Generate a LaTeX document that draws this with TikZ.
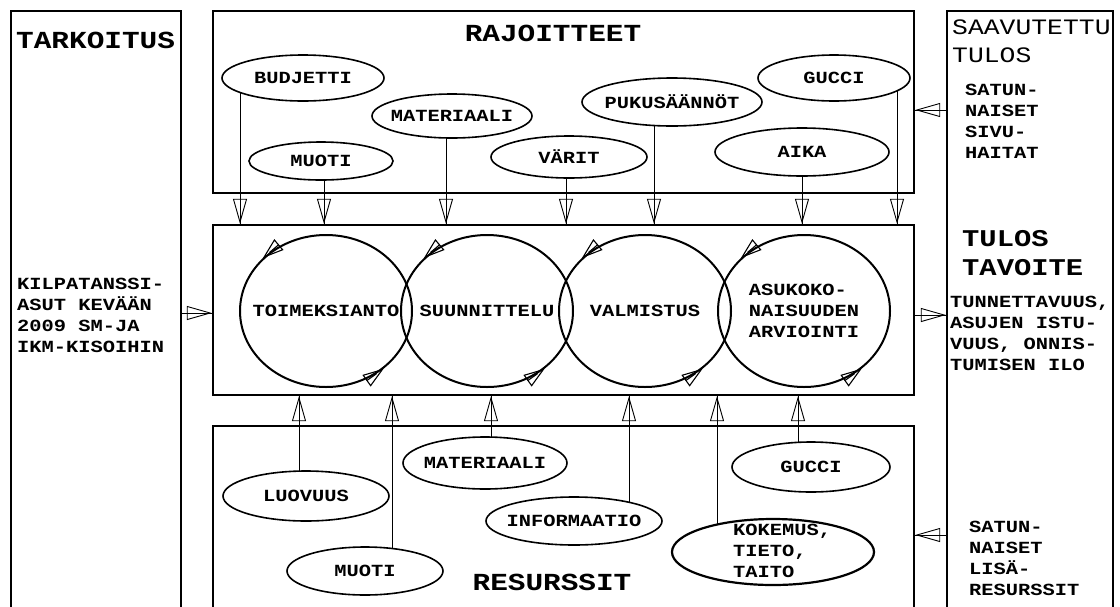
\documentclass[tikz,border=0pt]{standalone}
\usepackage{fontspec}
\newfontfamily\kaaviofont[FakeStretch=1.2]{Liberation Mono}
\usetikzlibrary{shapes.geometric,arrows.meta,backgrounds}
\tikzset{
  laatikko/.style={draw, line width=2.4pt, inner sep=0pt},
  soikio/.style={ellipse, draw, fill=white, line width=1.6pt, inner xsep=-30pt, inner ysep=0pt,
    font=\kaaviofont\bfseries\fontsize{17}{21}\selectfont},
  vaihe/.style={ellipse, draw, line width=2pt, minimum width=172pt, minimum height=152pt,
    inner xsep=-30pt, inner ysep=0pt, align=left, font=\kaaviofont\bfseries\fontsize{17}{21}\selectfont},
  teksti/.style={inner sep=0pt, anchor=west, align=left, font=\kaaviofont\bfseries\fontsize{17}{21}\selectfont},
  otsikko/.style={inner sep=0pt, font=\kaaviofont\bfseries\fontsize{24.5}{29}\selectfont},
  nuoli/.style={line width=0.9pt, -{Triangle[open, length=25pt, width=14pt]}, postaction={draw, -}},
  kierto/.style={line width=1.1pt, -{Triangle[open, length=21pt, width=14pt]}}
}
\begin{document}
\begin{tikzpicture}[x=1pt,y=-1pt]
  \useasboundingbox (0,0) rectangle (1120,606);
  % laatikot
  \node[laatikko, minimum width=170pt, minimum height=610pt] (tarkoitus) at (96,316) {};
  \node[laatikko, minimum width=701pt, minimum height=182pt] (rajoitteet) at (563.5,102) {};
  \node[laatikko, minimum width=701pt, minimum height=170pt] (prosessi) at (563.5,310) {};
  \node[laatikko, minimum width=701pt, minimum height=194pt] (resurssit) at (563.5,523) {};
  \node[laatikko, minimum width=166pt, minimum height=610pt] (tulos) at (1030,316) {};
  % otsikot
  \node[otsikko, anchor=west] (tarkoitus-otsikko) at (16,40) {TARKOITUS};
  \node[otsikko] (rajoitteet-otsikko) at (553,33) {RAJOITTEET};
  \node[otsikko] (resurssit-otsikko) at (552,582) {RESURSSIT};
  \node[otsikko, anchor=west, align=left, font=\kaaviofont\fontsize{22}{28}\selectfont] (saavutettu) at (952,41) {SAAVUTETTU\\TULOS};
  \node[otsikko, anchor=west, align=left, font=\kaaviofont\bfseries\fontsize{24}{29}\selectfont] (tulos-otsikko) at (962,253) {TULOS\\TAVOITE};
  % tekstit
  \node[teksti] (kilpa) at (17,315) {KILPATANSSI-\\ASUT KEVÄÄN\\2009 SM-JA\\IKM-KISOIHIN};
  \node[teksti] (haitat) at (965,121) {SATUN-\\NAISET\\SIVU-\\HAITAT};
  \node[teksti] (tavoite) at (950,333) {TUNNETTAVUUS,\\ASUJEN ISTU-\\VUUS, ONNIS-\\TUMISEN ILO};
  \node[teksti] (lisat) at (969,558) {SATUN-\\NAISET\\LISÄ-\\RESURSSIT};
  % rajoitteet
  \node[soikio, minimum width=162pt, minimum height=46pt] (budjetti) at (303,78) {BUDJETTI};
  \node[soikio, minimum width=144pt, minimum height=38pt] (muoti) at (321,161) {MUOTI};
  \node[soikio, minimum width=160pt, minimum height=44pt] (materiaali) at (452,116) {MATERIAALI};
  \node[soikio, minimum width=156pt, minimum height=42pt] (varit) at (569,157) {VÄRIT};
  \node[soikio, minimum width=180pt, minimum height=48pt] (pukusaannot) at (672,102) {PUKUSÄÄNNÖT};
  \node[soikio, minimum width=152pt, minimum height=46pt] (gucci) at (834,78) {GUCCI};
  \node[soikio, minimum width=174pt, minimum height=48pt] (aika) at (802,152) {AIKA};
  % prosessi
  \node[vaihe] (toimeksianto) at (326,311) {TOIMEKSIANTO};
  \node[vaihe] (suunnittelu) at (487,311) {SUUNNITTELU};
  \node[vaihe] (valmistus) at (645,311) {VALMISTUS};
  \node[vaihe] (arviointi) at (804,311) {ASUKOKO-\\NAISUUDEN\\ARVIOINTI};
  \draw[kierto] (toimeksianto.134) -- (toimeksianto.140);
  \draw[kierto] (toimeksianto.-51) -- (toimeksianto.-45);
  \draw[kierto] (suunnittelu.134) -- (suunnittelu.140);
  \draw[kierto] (suunnittelu.-51) -- (suunnittelu.-45);
  \draw[kierto] (valmistus.134) -- (valmistus.140);
  \draw[kierto] (valmistus.-51) -- (valmistus.-45);
  \draw[kierto] (arviointi.134) -- (arviointi.140);
  \draw[kierto] (arviointi.-51) -- (arviointi.-45);
  % resurssit
  \node[soikio, minimum width=166pt, minimum height=50pt] (luovuus) at (306,496) {LUOVUUS};
  \node[soikio, minimum width=156pt, minimum height=48pt] (muoti2) at (365,571) {MUOTI};
  \node[soikio, minimum width=164pt, minimum height=52pt] (materiaali2) at (485,463) {MATERIAALI};
  \node[soikio, minimum width=176pt, minimum height=48pt] (informaatio) at (574,521) {INFORMAATIO};
  \node[soikio, minimum width=158pt, minimum height=50pt] (gucci2) at (811,467) {GUCCI};
  \node[soikio, minimum width=202pt, minimum height=66pt, line width=2.2pt] (kokemus) at (773,552) {};
  \node[teksti] (kokemus-teksti) at (733,551) {KOKEMUS,\\TIETO,\\TAITO};
  % nuolet
  \begin{pgfonlayer}{background}
    \draw[nuoli] (240,0 |- budjetti.center) -- (240,0 |- prosessi.north);
    \draw[nuoli] (324,0 |- muoti.center) -- (324,0 |- prosessi.north);
    \draw[nuoli] (446,0 |- materiaali.center) -- (446,0 |- prosessi.north);
    \draw[nuoli] (566,0 |- varit.center) -- (566,0 |- prosessi.north);
    \draw[nuoli] (654,0 |- pukusaannot.center) -- (654,0 |- prosessi.north);
    \draw[nuoli] (802,0 |- aika.center) -- (802,0 |- prosessi.north);
    \draw[nuoli] (897,0 |- gucci.center) -- (897,0 |- prosessi.north);
    \draw[nuoli] (299,0 |- luovuus.center) -- (299,0 |- prosessi.south);
    \draw[nuoli] (392,0 |- muoti2.center) -- (392,0 |- prosessi.south);
    \draw[nuoli] (491,0 |- materiaali2.center) -- (491,0 |- prosessi.south);
    \draw[nuoli] (629,0 |- informaatio.center) -- (629,0 |- prosessi.south);
    \draw[nuoli] (717,0 |- kokemus.center) -- (717,0 |- prosessi.south);
    \draw[nuoli] (798,0 |- gucci2.center) -- (798,0 |- prosessi.south);
    \draw[nuoli] (tarkoitus.east |- 0,313) -- (prosessi.west |- 0,313);
    \draw[nuoli] (prosessi.east |- 0,315) -- (tulos.west |- 0,315);
    \draw[nuoli] (tulos.west |- 0,110) -- (rajoitteet.east |- 0,110);
    \draw[nuoli] (tulos.west |- 0,535) -- (resurssit.east |- 0,535);
  \end{pgfonlayer}
\end{tikzpicture}
\end{document}
